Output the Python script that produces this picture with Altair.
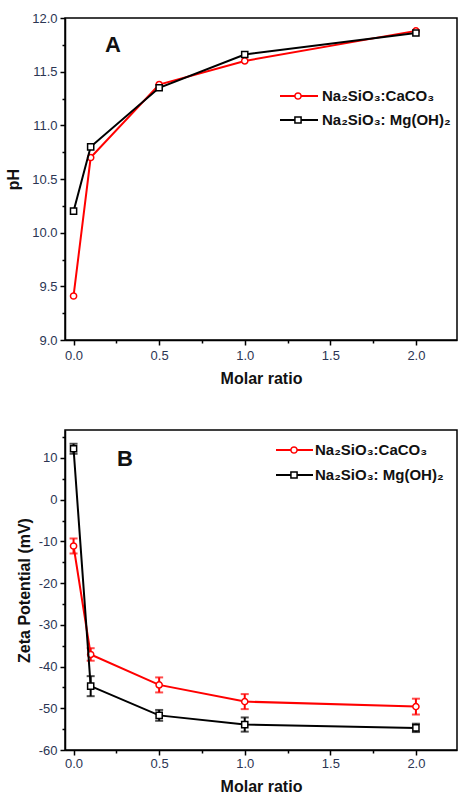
import altair as alt
import pandas as pd

# ---- data ----
ratio = [0.0, 0.1, 0.5, 1.0, 2.0]
series = ["Na₂SiO₃:CaCO₃", "Na₂SiO₃: Mg(OH)₂"]
colors = ["#ff0000", "#000000"]

ph_caco3 = [9.41, 10.70, 11.38, 11.60, 11.88]
ph_mgoh2 = [10.20, 10.80, 11.35, 11.66, 11.86]

zeta_caco3 = [-11.1, -37.1, -44.4, -48.4, -49.6]
zeta_caco3_err = [1.8, 1.5, 1.8, 1.8, 1.9]
zeta_mgoh2 = [12.2, -44.7, -51.7, -53.9, -54.7]
zeta_mgoh2_err = [1.2, 2.4, 1.3, 1.7, 1.0]

x_major = [0.0, 0.5, 1.0, 1.5, 2.0]
x_minor = [0.25, 0.75, 1.25, 1.75]
ph_major = [9.0, 9.5, 10.0, 10.5, 11.0, 11.5, 12.0]
ph_minor = [9.25, 9.75, 10.25, 10.75, 11.25, 11.75]
zeta_major = [-60, -50, -40, -30, -20, -10, 0, 10]
zeta_minor = [-55, -45, -35, -25, -15, -5, 5, 15]

FONT = "Liberation Sans"
LABEL_COLOR = "#2b3553"

xscale = alt.Scale(domain=[-0.05, 2.24], nice=False, zero=False)
ph_scale = alt.Scale(domain=[9.0, 12.0], nice=False, zero=False)
zeta_scale = alt.Scale(domain=[-60, 16.7], nice=False, zero=False)


def x_axes(label_pad):
    major = alt.Axis(values=x_major, format=".1f", title="Molar ratio", tickSize=5,
                     labelPadding=label_pad, titlePadding=8, grid=False, orient="bottom")
    minor = alt.Axis(values=x_minor, labels=False, domain=False, tickSize=3,
                     title=None, grid=False, orient="bottom")
    return major, minor


def y_axes(major_vals, minor_vals, label_expr, title, title_pad):
    major = alt.Axis(values=major_vals, labelExpr=label_expr, title=title, tickSize=5,
                     labelPadding=3, titlePadding=title_pad, grid=False, orient="left")
    minor = alt.Axis(values=minor_vals, labels=False, domain=False, tickSize=3,
                     title=None, grid=False, orient="left")
    return major, minor


def series_layers(df, yscale, color, shape, err=False):
    base = alt.Chart(df)
    x = alt.X("ratio:Q", scale=xscale, axis=None)
    y = alt.Y("val:Q", scale=yscale, axis=None)
    layers = [base.mark_line(color=color, strokeWidth=2).encode(x=x, y=y)]
    if err:
        lo = alt.Y("lo:Q", scale=yscale, axis=None)
        hi = alt.Y("hi:Q", scale=yscale, axis=None)
        layers.append(base.mark_rule(color=color, strokeWidth=2).encode(
            x=x, y=lo, y2="hi:Q"))
        layers.append(base.mark_tick(color=color, orient="horizontal", size=8, thickness=2).encode(
            x=x, y=lo))
        layers.append(base.mark_tick(color=color, orient="horizontal", size=8, thickness=2).encode(
            x=x, y=hi))
    layers.append(base.mark_point(shape=shape, size=38, filled=True, fill="white",
                                  stroke=color, strokeWidth=1.5, opacity=1).encode(x=x, y=y))
    return layers


def axis_layer(df, yscale, xax, yax):
    return alt.Chart(df).mark_point(opacity=0).encode(
        x=alt.X("ratio:Q", scale=xscale, axis=xax),
        y=alt.Y("val:Q", scale=yscale, axis=yax))


def legend_layers(x0, x1, xm, xt, ys):
    one = pd.DataFrame({"k": [0]})
    out = []
    for s, c, shp, yy in zip(series, colors, ["circle", "square"], ys):
        out.append(alt.Chart(one).mark_rule(color=c, strokeWidth=2).encode(
            x=alt.value(x0), x2=alt.value(x1), y=alt.value(yy)))
        out.append(alt.Chart(one).mark_point(shape=shp, size=38, filled=True, fill="white",
                                             stroke=c, strokeWidth=1.5, opacity=1).encode(
            x=alt.value(xm), y=alt.value(yy)))
        out.append(alt.Chart(one).mark_text(align="left", baseline="middle", fontSize=15,
                                            fontWeight="bold", font=FONT, color="#111111").encode(
            x=alt.value(xt), y=alt.value(yy), text=alt.value(s)))
    return out


def letter(txt, x, y):
    one = pd.DataFrame({"k": [0]})
    return alt.Chart(one).mark_text(fontSize=22, fontWeight="bold", font=FONT,
                                    color="#111111").encode(
        x=alt.value(x), y=alt.value(y), text=alt.value(txt))


# ---- panel A ----
dfa_ca = pd.DataFrame({"ratio": ratio, "val": ph_caco3})
dfa_mg = pd.DataFrame({"ratio": ratio, "val": ph_mgoh2})
xa_major, xa_minor = x_axes(4)
ya_major, ya_minor = y_axes(ph_major, ph_minor, "format(datum.value, '.1f')", "pH", 10)

panel_a = alt.layer(
    axis_layer(dfa_ca, ph_scale, xa_major, ya_major),
    axis_layer(dfa_ca, ph_scale, xa_minor, ya_minor),
    *series_layers(dfa_ca, ph_scale, colors[0], "circle"),
    *series_layers(dfa_mg, ph_scale, colors[1], "square"),
    *legend_layers(215, 253, 233, 257, [78, 102]),
    letter("A", 48, 27),
).resolve_axis(x="independent", y="independent").properties(width=392, height=322)

# ---- panel B ----
dfb_ca = pd.DataFrame({"ratio": ratio, "val": zeta_caco3,
                       "lo": [v - e for v, e in zip(zeta_caco3, zeta_caco3_err)],
                       "hi": [v + e for v, e in zip(zeta_caco3, zeta_caco3_err)]})
dfb_mg = pd.DataFrame({"ratio": ratio, "val": zeta_mgoh2,
                       "lo": [v - e for v, e in zip(zeta_mgoh2, zeta_mgoh2_err)],
                       "hi": [v + e for v, e in zip(zeta_mgoh2, zeta_mgoh2_err)]})
xb_major, xb_minor = x_axes(2)
yb_major, yb_minor = y_axes(zeta_major, zeta_minor, "'' + datum.value",
                            "Zeta Potential (mV)", 6)

panel_b = alt.layer(
    axis_layer(dfb_ca, zeta_scale, xb_major, yb_major),
    axis_layer(dfb_ca, zeta_scale, xb_minor, yb_minor),
    *series_layers(dfb_ca, zeta_scale, colors[0], "circle", err=True),
    *series_layers(dfb_mg, zeta_scale, colors[1], "square", err=True),
    *legend_layers(211, 248, 229, 250, [20, 45]),
    letter("B", 60, 29),
).resolve_axis(x="independent", y="independent").properties(width=392, height=320)

chart = alt.vconcat(panel_a, panel_b, spacing=42).properties(
    padding={"top": 11, "left": 4, "right": 0, "bottom": 0},
    background="white",
).configure_axis(
    labelFont=FONT, labelFontSize=13, labelColor=LABEL_COLOR,
    titleFont=FONT, titleFontSize=16, titleFontWeight="bold", titleColor="#111111",
    domainColor="#000000", domainWidth=1.5, tickColor="#000000", tickWidth=1.5,
).configure_view(stroke="#000000", strokeWidth=1.5)

chart.save("out.html", embed_options={"renderer": "svg", "actions": False})
